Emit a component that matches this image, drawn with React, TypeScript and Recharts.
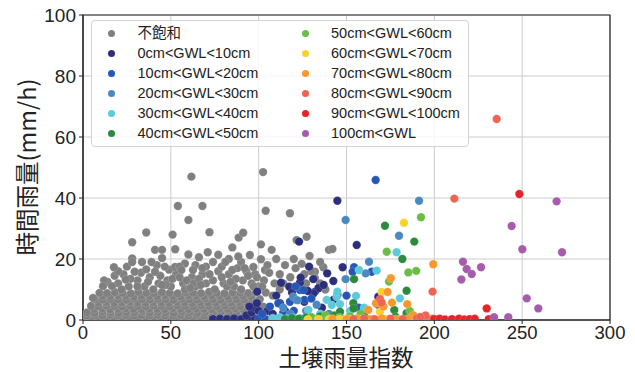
import { ScatterChart, Scatter, XAxis, YAxis, CartesianGrid, Legend, ReferenceArea } from 'recharts';

type Pt = [number, number];

const xTicks = [0, 50, 100, 150, 200, 250, 300];
const yTicks = [0, 20, 40, 60, 80, 100];

const groupNames = [
    '不飽和', '0cm<GWL<10cm', '10cm<GWL<20cm', '20cm<GWL<30cm', '30cm<GWL<40cm', '40cm<GWL<50cm',
    '50cm<GWL<60cm', '60cm<GWL<70cm', '70cm<GWL<80cm', '80cm<GWL<90cm', '90cm<GWL<100cm', '100cm<GWL',
];
const groupColors = [
    '#808080', '#2b2f7c', '#2657b5', '#4a89c0', '#5ccbd9', '#2b8a3e',
    '#6cbd45', '#fbd02b', '#f7982f', '#ef6352', '#e6232a', '#a65bad',
];

// unsaturated: dense band near the bottom + scattered points above
const unsaturated: Pt[] = [
    [0.3, 1.2], [1.5, 0.4], [3.2, 1.9],
    [0.5, 0.4], [4.2, 0.3], [8.9, 0.5], [13.6, 0.4], [17.8, 0.3], [22.4, 0.5], [27.1, 0.4], [31.3, 0.3], [36.0, 0.5],
    [40.6, 0.4], [44.8, 0.3], [49.5, 0.5], [54.1, 0.4], [58.3, 0.3], [63.0, 0.5], [67.4, 0.4], [71.9, 0.3], [76.3, 0.5],
    [80.8, 0.4], [85.6, 0.3], [89.9, 0.5], [94.6, 0.4], [99.1, 0.6],
    [2.3, 1.5], [6.8, 1.6], [11.1, 1.4], [15.6, 1.7], [20.0, 1.5], [24.5, 1.6], [29.0, 1.4], [33.4, 1.6], [37.9, 1.5],
    [42.4, 1.7], [46.8, 1.5], [51.3, 1.4], [55.7, 1.6], [60.2, 1.5], [64.6, 1.7], [69.1, 1.5], [73.5, 1.4], [78.0, 1.6],
    [82.4, 1.5], [86.9, 1.7], [91.3, 1.5],
    [2.4, 2.5], [6.6, 2.4], [11.2, 2.7], [15.7, 2.5], [20.3, 2.3], [24.6, 2.6], [29.2, 2.5], [33.8, 2.8], [38.1, 2.4],
    [42.7, 2.6], [47.2, 2.5], [51.6, 2.3], [56.3, 2.7], [60.7, 2.5], [65.2, 2.4], [69.6, 2.6], [74.1, 2.5], [78.7, 2.8],
    [83.2, 2.4], [87.5, 2.6], [92.0, 2.5], [96.4, 2.3],
    [6.5, 3.6], [11.0, 3.7], [15.4, 3.5], [19.9, 3.6], [24.3, 3.8], [28.8, 3.6], [33.3, 3.5], [37.7, 3.7], [42.2, 3.6],
    [46.6, 3.5], [51.1, 3.8], [55.5, 3.6], [60.0, 3.5], [64.4, 3.7], [68.9, 3.6], [73.3, 3.5], [77.8, 3.7], [82.2, 3.6],
    [86.7, 3.8], [91.1, 3.6], [95.6, 3.5],
    [4.6, 4.6], [8.8, 4.5], [13.4, 4.7], [17.9, 4.6], [22.3, 4.4], [26.8, 4.8], [31.4, 4.6], [35.7, 4.5], [40.2, 4.7],
    [44.9, 4.6], [49.3, 4.4], [53.8, 4.7], [58.2, 4.6], [62.8, 4.5], [67.3, 4.8], [71.6, 4.6], [76.2, 4.4], [80.7, 4.7],
    [85.1, 4.6], [89.6, 4.5], [94.1, 4.7], [98.5, 4.6], [102.5, 4.4],
    [8.9, 5.7], [13.3, 5.8], [17.8, 5.6], [22.2, 5.7], [26.7, 5.9], [31.1, 5.7], [35.6, 5.6], [40.0, 5.8], [44.5, 5.7],
    [48.9, 5.6], [53.4, 5.9], [57.8, 5.7], [62.3, 5.6], [66.7, 5.8], [71.2, 5.7], [75.6, 5.6], [80.1, 5.8], [84.5, 5.7],
    [89.0, 5.9], [93.4, 5.7], [97.9, 5.6],
    [6.8, 6.8], [11.3, 6.7], [15.6, 6.9], [20.1, 6.8], [24.7, 6.6], [29.0, 7.0], [33.6, 6.8], [38.2, 6.7], [42.5, 6.9],
    [47.1, 6.8], [51.5, 6.6], [56.0, 6.9], [60.6, 6.8], [65.0, 6.7], [69.4, 7.0], [74.0, 6.8], [78.5, 6.6], [82.9, 6.9],
    [87.4, 6.8], [91.8, 6.7], [96.3, 6.9], [100.6, 6.8],
    [11.1, 7.9], [15.5, 7.8], [20.0, 8.0], [24.4, 7.9], [28.9, 7.7], [33.3, 8.0], [37.8, 7.9], [42.2, 7.8], [46.7, 8.0],
    [51.1, 7.9], [55.6, 7.7], [60.0, 8.0], [64.5, 7.9], [68.9, 7.8], [73.4, 8.0], [77.8, 7.9], [82.3, 7.7], [86.7, 8.0],
    [91.2, 7.9], [95.6, 7.8],
    [9.4, 8.9], [13.7, 8.8], [18.2, 9.1], [22.6, 8.9], [27.3, 8.7], [31.5, 9.2], [36.1, 8.9], [40.4, 8.8], [45.0, 9.1],
    [49.4, 8.9], [53.9, 8.7], [58.5, 9.0], [62.7, 8.9], [67.2, 8.8], [71.8, 9.2], [76.1, 8.9], [80.6, 8.7], [85.2, 9.0],
    [89.5, 8.9], [94.0, 8.8], [98.4, 9.1],
    [20, 12], [26, 11], [31, 13], [35, 11], [38, 14], [43, 12], [48, 13], [50, 11], [53, 15], [57, 12], [62, 14],
    [64, 11], [68, 15], [70, 12], [74, 13], [77, 16], [80, 12], [83, 15], [86, 11], [88, 17], [91, 13], [93, 16],
    [96, 12], [98, 15], [100, 11], [22, 10], [40, 10], [58, 10], [75, 10], [90, 10], [5.7, 7.2],
    [14, 12.5], [18, 14.5], [23, 15], [27, 13.5], [33, 15.5], [37, 12.5], [44, 14.5], [47, 11.5], [51, 13.5],
    [55, 14], [59, 13], [63, 12], [66, 13.5], [72, 15], [79, 14], [82, 11], [87, 13.5], [94, 14.5], [97, 11],
    [31, 11], [45, 11.5], [61, 10.5], [67, 11.5], [84, 12.5], [12, 13], [20, 16], [25, 17.5], [42, 18],
    [49, 16.5], [58, 18.5], [64, 18], [70, 17.5], [79, 17.5], [83, 20], [90, 19], [99, 14],
    [61.7, 47], [54, 37.4], [68, 37.4], [60, 32.8], [36, 28.7], [51, 28], [28, 25.5], [72, 28.8], [52.5, 23.2],
    [41, 23], [45, 23], [28, 20.2], [28, 19], [17.6, 17.3], [33.6, 19], [39, 19], [45, 20.3], [60, 21.5], [66, 20.6],
    [71, 22.2], [36, 16.6], [29.4, 15.8], [41, 15.8], [46.5, 17.5], [52.4, 17.4], [55, 17.5], [56, 16.4], [62.6, 16.4],
    [68, 17], [74, 19], [24.3, 13.3], [11.4, 11.1], [16.5, 11.1], [77, 21.4], [81, 19], [85, 16.4], [85, 23.8],
    [88.4, 20.8], [88.6, 27], [91.2, 28.6], [92, 17], [95, 21.3], [97, 17.4], [101.3, 19.9], [101.3, 24.8],
    [103.6, 16.4], [107.4, 23], [102.5, 48.5], [104, 35.8], [117.8, 35], [121.6, 26.2], [127.3, 27.3],
    [124.5, 18.4], [140, 23], [142, 23.3], [132, 15.8], [136.8, 17.3], [124.5, 14], [132, 13.7],
    [103, 13], [106, 15.5], [109, 12], [112, 15], [115, 18], [118, 14], [121, 17], [127, 12], [130, 16],
    [104, 9], [108, 8], [112, 10], [135, 12], [138, 10], [102, 11], [105, 18], [110, 20], [114, 12],
    [120, 20], [126, 15], [129, 21], [135, 19],
];

const gwl0to10: Pt[] = [
    [74, 0.3], [78, 0.4], [82, 0.3], [86, 0.5], [90, 0.3], [94, 0.4], [98, 0.3],
    [93, 1.5], [96, 2.5], [98, 4], [100, 3], [99, 5.5], [94.7, 4.4], [99.2, 9.3], [112.7, 12.2], [117.4, 10.9],
    [123.5, 12.2], [131.1, 13.4], [132.1, 9.3], [112.1, 5.5], [123, 25.7], [128.7, 17.5], [144.8, 39.1],
    [155.8, 24.6], [139, 15.3], [147.8, 17.3], [142.5, 12.8], [134, 10.4], [131.1, 8.7], [142.5, 6.6],
    [144.8, 8.2], [168.1, 7.6], [123.9, 13.9], [105, 3], [108, 2], [110, 8], [115, 3], [119, 9], [126, 6],
    [136, 4], [128, 9.5], [137, 11.5],
];

const gwl10to20: Pt[] = [
    [100, 0.4], [104, 0.3], [108, 0.6], [112, 0.4], [106.4, 4.4], [111.2, 5.5], [117.8, 6], [123.5, 9.8],
    [125.4, 9.8], [126, 6.6], [154.3, 17.3], [153.5, 15.8], [164.3, 15.8], [166.6, 45.9], [102, 2],
    [114, 2.5], [120, 3], [130, 7], [121, 11], [150, 8], [168, 5], [157, 4],
];

const gwl20to30: Pt[] = [
    [191.3, 39.1], [149.5, 32.8], [179.9, 27.6], [162.8, 19.1], [160.9, 15.3], [149.5, 13.4], [119.7, 7.6],
    [122, 6.5], [114, 4], [127, 3], [133, 5], [140, 2], [118, 2],
];

const gwl30to40: Pt[] = [
    [108, 0.5], [112, 0.8], [116, 0.4], [120, 0.7], [124, 0.5], [128.3, 3.3], [138.7, 6.6], [141.6, 4.9],
    [144.4, 7.6], [146.3, 5.2], [157.1, 16.4], [167.2, 16.2], [155.4, 7.9], [178.5, 22.2], [180.4, 7.1],
    [144.8, 9.3], [160, 4], [152, 3], [135, 2], [146, 1.5],
];

const gwl40to50: Pt[] = [
    [115, 0.3], [119, 0.6], [123, 0.4], [127, 0.8], [131, 0.5], [135, 1.2], [139, 0.6], [143, 1.5],
    [171.9, 30.9], [188.6, 25.7], [181.8, 20], [154.3, 13.4], [153.9, 5.5], [154, 3.8], [184.2, 9.6],
    [177.2, 3.3], [184.2, 2.2], [146.3, 2.7], [160, 1.5], [178, 1], [188, 1.2],
];

const gwl50to60: Pt[] = [
    [192.4, 33.7], [172.9, 22.4], [185.2, 15.6], [189.7, 16.1], [174.2, 12.6], [130, 1], [138, 1.5],
    [146, 0.8], [152, 1.2], [158, 2], [186, 3],
];

const gwl60to70: Pt[] = [
    [182.7, 31.9], [170, 9.2], [169, 2.7], [128, 0.2], [134, 0.3], [140, 0.2], [146, 0.3], [152, 0.2],
    [158, 0.3], [164, 0.2], [172, 0.3], [180, 0.2], [186, 0.3], [192, 0.2],
];

const gwl70to80: Pt[] = [
    [199.4, 18.3], [175.2, 13.7], [173.4, 9.2], [175.9, 5.7], [184.6, 5.2], [166.8, 5.5], [162.4, 3.3],
    [188, 1.6], [171, 4.4], [142, 0.4], [150, 0.3], [156, 0.5], [163, 0.3], [170, 0.5], [178, 0.3],
    [185, 0.4], [194, 0.3],
];

const gwl80to90: Pt[] = [
    [235.5, 65.9], [211.4, 39.8], [199, 9.3], [169.1, 6.8], [170, 5.7], [154, 0.3], [160, 0.5], [166, 0.3],
    [175, 0.4], [182, 0.3], [190, 0.5], [196, 0.3], [199, 0.4], [195, 1.5], [192, 1],
];

const gwl90to100: Pt[] = [
    [248.4, 41.3], [229.8, 3.8], [200, 0.3], [203, 0.4], [206, 0.2], [210, 0.3], [214, 0.4], [217, 0.2],
    [220, 0.3], [223, 0.4], [231, 0.3],
];

const gwlOver100: Pt[] = [
    [269.6, 38.9], [244, 30.8], [250.1, 23.2], [272.7, 22.2], [216.3, 19.1], [218.4, 16.7], [221.3, 15.1],
    [226.6, 17.3], [215.4, 13.3], [252.6, 7.1], [259.2, 3.8], [234, 0.9], [242.1, 0.9],
];

const groups = [
    unsaturated, gwl0to10, gwl10to20, gwl20to30, gwl30to40, gwl40to50,
    gwl50to60, gwl60to70, gwl70to80, gwl80to90, gwl90to100, gwlOver100,
];

const latinFont = "'Liberation Sans', 'Noto Sans CJK JP', sans-serif";
const cjkFont = "'Noto Sans CJK JP', sans-serif";

function LegendBox() {
    return (
        <div style={{
            position: 'relative', width: 378, height: 127, boxSizing: 'border-box',
            border: '1px solid #d4d4d4', borderRadius: 4, background: 'rgba(255,255,255,0.8)',
            fontFamily: latinFont, fontSize: 14.5, color: '#222',
        }}>
            {groupNames.map((name, i) => {
                const col = i < 6 ? 0 : 1;
                const row = i % 6;
                const left = col === 0 ? 19.5 : 213;
                const top = 12 + row * 20;
                return (
                    <div key={name}>
                        <div style={{
                            position: 'absolute', left: left - 3.5, top: top - 3.5, width: 7, height: 7,
                            borderRadius: '50%', background: groupColors[i],
                        }} />
                        <div style={{
                            position: 'absolute', left: left + 26, top: top - 9, height: 18, lineHeight: '18px',
                            whiteSpace: 'nowrap',
                        }}>{name}</div>
                    </div>
                );
            })}
        </div>
    );
}

const yLabel = () => (
    <text x={26} y={167} transform="rotate(-90 26 167)" textAnchor="middle" dominantBaseline="central"
        fontFamily={cjkFont} fontSize={23.5} fill="#222">時間雨量(mm/h)</text>
);

const xLabel = () => (
    <text x={346} y={356} textAnchor="middle" dominantBaseline="central"
        fontFamily={cjkFont} fontSize={22.5} fill="#222">土壌雨量指数</text>
);

export default function App() {
    return (
        <div style={{ position: 'relative', width: 635, height: 372, background: '#fff' }}>
            <style>{'body{margin:0}'}</style>
            <ScatterChart width={635} height={372} margin={{ top: 15, right: 25, left: 0, bottom: 0 }}>
                <CartesianGrid stroke="#cccccc" strokeWidth={1} />
                <XAxis type="number" dataKey="x" domain={[0, 300]} ticks={xTicks} allowDataOverflow
                    height={52} tickSize={4} tickMargin={2} interval={0}
                    axisLine={{ stroke: '#222' }} tickLine={{ stroke: '#222' }}
                    tick={{ fontSize: 18.5, fill: '#222', fontFamily: latinFont }} label={xLabel} />
                <YAxis type="number" dataKey="y" domain={[0, 100]} ticks={yTicks} allowDataOverflow
                    width={83} tickSize={4} tickMargin={3} interval={0}
                    axisLine={{ stroke: '#222' }} tickLine={{ stroke: '#222' }}
                    tick={{ fontSize: 19, fill: '#222', fontFamily: latinFont }} label={yLabel} />
                {groups.map((pts, i) => (
                    <Scatter key={groupNames[i]} name={groupNames[i]} data={pts.map(([x, y]) => ({ x, y }))}
                        fill={groupColors[i]} isAnimationActive={false}
                        shape={(p: any) => (
                            <circle cx={p.cx} cy={p.cy} r={4.2} fill={groupColors[i]}
                                stroke="rgba(255,255,255,0.5)" strokeWidth={0.3} />
                        )} />
                ))}
                <ReferenceArea x1={0} x2={300} y1={0} y2={100} fill="none" stroke="#222" strokeWidth={1.2} />
                <Legend layout="horizontal" verticalAlign="middle" align="center"
                    wrapperStyle={{ left: 91, top: 20, width: 378, height: 127 }}
                    content={() => <LegendBox />} />
            </ScatterChart>
        </div>
    );
}
